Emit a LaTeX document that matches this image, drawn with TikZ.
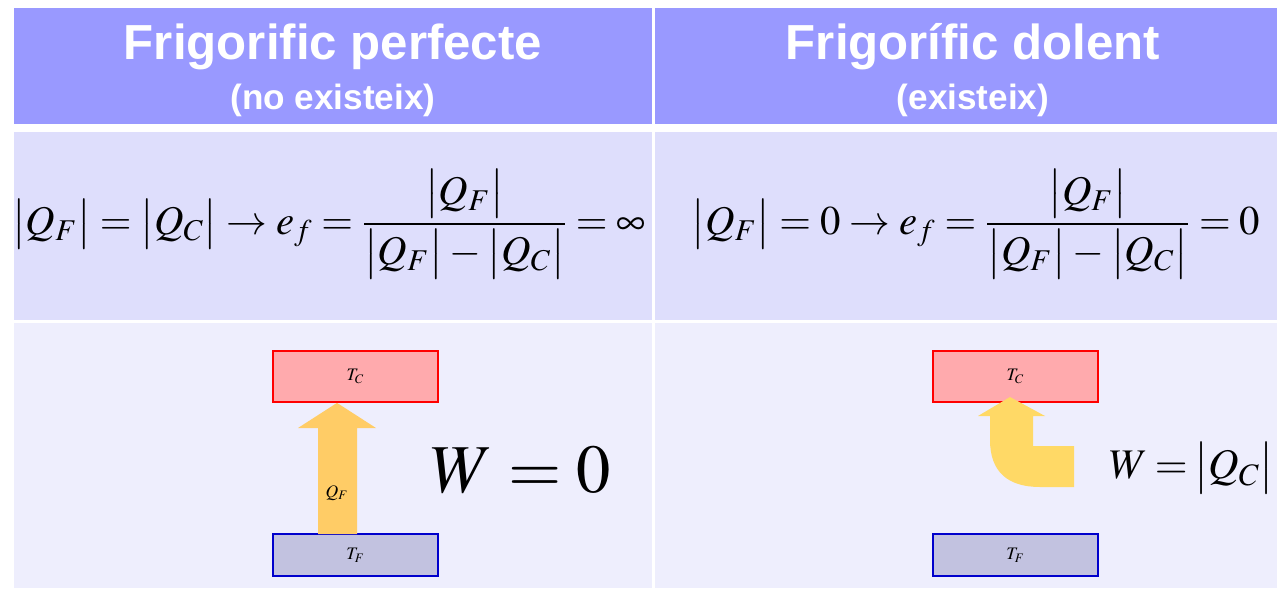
\documentclass[tikz,border=0pt]{standalone}
\usepackage{amsmath, amssymb}
\usepackage{mathptmx}
\usepackage{fontspec}
\setsansfont{Liberation Sans}
\usepackage{tikz}
\usetikzlibrary{positioning, calc}
\definecolor{headblue}{HTML}{9999FF}
\definecolor{rowlight}{HTML}{DEDEFC}
\definecolor{rowpale}{HTML}{EEEEFD}
\definecolor{hotfill}{HTML}{FFAAAD}
\definecolor{coldfill}{HTML}{C2C2E0}
\definecolor{heatarrow}{HTML}{FFCC66}
\definecolor{workarrow}{HTML}{FFD966}
\newcommand{\absq}[1]{\bigl|#1\bigr|}
\newcommand{\tightmath}{\thickmuskip=4mu plus 1mu \medmuskip=3mu plus 1mu\relax}
\tikzset{
  % Celle della tabella
  cell head/.style={fill=headblue},
  cell eq/.style={fill=rowlight},
  cell pic/.style={fill=rowpale},
  title/.style={text=white,font=\sffamily\bfseries\fontsize{28}{30}\selectfont},
  subtitle/.style={text=white,font=\sffamily\bfseries\fontsize{20}{22}\selectfont},
  eqtext/.style={font=\fontsize{23.2}{30}\selectfont},
  % Serbatoi
  tank hot/.style={draw=red,fill=hotfill,line width=1pt,minimum width=3.3cm,minimum height=1.02cm,inner sep=0},
  tank cold/.style={draw=blue!80!black,fill=coldfill,line width=1pt,minimum width=3.3cm,minimum height=0.84cm,inner sep=0},
  tanklabel/.style={font=\fontsize{10}{12}\selectfont}
}
\begin{document}
\begin{tikzpicture}[x=0.02cm,y=-0.02cm]
    \useasboundingbox[fill=white] (0,0) rectangle (1277,588);
    % righe
    \fill[cell head] (14,8) rectangle (652,124);
    \fill[cell head] (655,8) rectangle (1277,124);
    \fill[cell eq] (14,132) rectangle (652,320);
    \fill[cell eq] (655,132) rectangle (1277,320);
    \fill[cell pic] (14,323) rectangle (652,588);
    \fill[cell pic] (655,323) rectangle (1277,588);
    % intestazioni
    \node[title] (t1) at (333,47) {Frigorific perfecte};
    \node[subtitle] (s1) at (333,100) {(no existeix)};
    \node[title] (t2) at (973,47) {Frigorífic dolent};
    \node[subtitle] (s2) at (973,100) {(existeix)};
    % equazioni
    \node[eqtext] (eq1) at (329,224)
      {$\tightmath \absq{Q_F} = \absq{Q_C} \rightarrow e_f = \dfrac{\absq{Q_F}}{\absq{Q_F} - \absq{Q_C}} = \infty$};
    \node[eqtext] (eq2) at (976,224)
      {$\tightmath \absq{Q_F} = 0 \rightarrow e_f = \dfrac{\absq{Q_F}}{\absq{Q_F} - \absq{Q_C}} = 0$};
    % frigorifico perfetto
    \node[tank hot] (hot1) at (355.5,376.5) {};
    \node[tanklabel] at (hot1) {$T_C$};
    \node[tank cold] (cold1) at (355.5,555) {};
    \node[tanklabel] at (cold1) {$T_F$};
    \fill[heatarrow] (318,534) -- (318,428) -- (298,428) -- (hot1.south -| 337,0)
      -- (376,428) -- (357,428) -- (357,534) -- cycle;
    \node[tanklabel] (qf) at (337,493) {$Q_F$};
    \node[font=\fontsize{39}{44}\selectfont] (w1) at (521,470) {$W = 0$};
    % frigorifico reale
    \node[tank hot] (hot2) at (1015.5,376.5) {};
    \node[tanklabel] at (hot2) {$T_C$};
    \node[tank cold] (cold2) at (1015.5,555) {};
    \node[tanklabel] at (cold2) {$T_F$};
    \fill[workarrow] (1074,487) -- (1074,446) -- (1033,446) -- (1033,416) -- (1045,416)
      -- (1010,397) -- (978,416) -- (990,416) -- (990,440)
      .. controls (990,472) and (1008,487) .. (1040,487) -- cycle;
    \node[font=\fontsize{24}{30}\selectfont,anchor=east,inner sep=1pt] (w2) at (1276,468)
      {$\thickmuskip=3mu\relax W = \absq{Q_C}$};
\end{tikzpicture}
\end{document}
